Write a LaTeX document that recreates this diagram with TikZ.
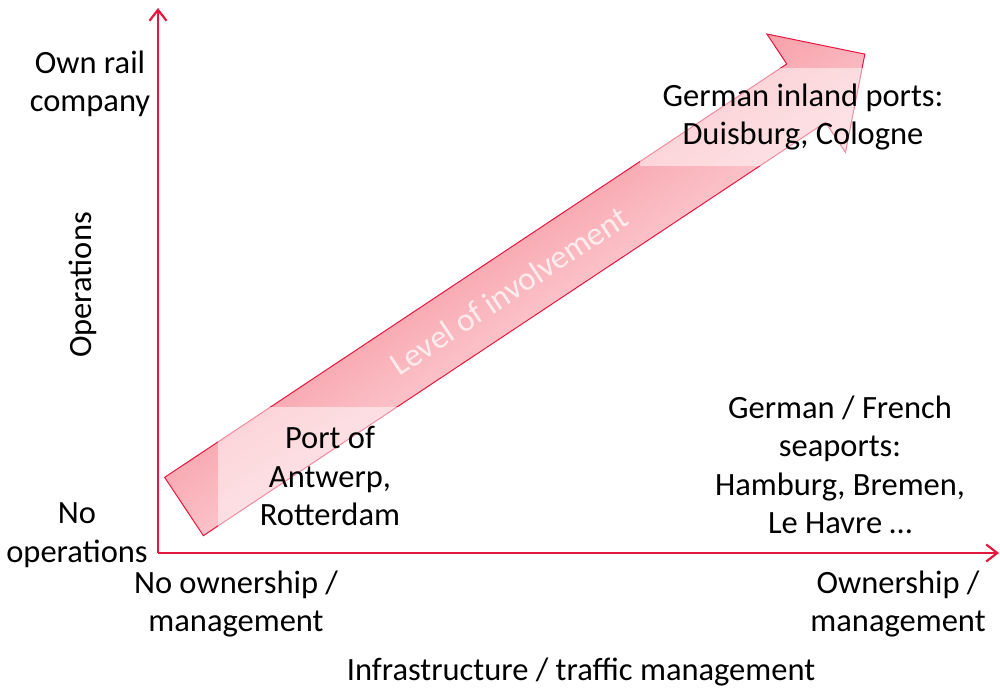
\documentclass[tikz,border=0pt]{standalone}
\usepackage{fontspec}
\setmainfont{Carlito}
\usepackage{tikz}
\usetikzlibrary{calc,arrows.meta}
\definecolor{axisred}{HTML}{E5173F}
\definecolor{arrowdark}{HTML}{F8A0AA}
\definecolor{arrowlight}{HTML}{FCCDD2}
\definecolor{ink}{HTML}{000000}
\tikzset{
  axis/.style={draw=axisred, line width=2.2pt, -{Straight Barb[length=11pt,width=17pt]}},
  band/.style={draw=axisred, line width=1pt, line join=miter, top color=arrowdark, bottom color=arrowlight},
  lab/.style={text=ink, font=\fontsize{32.5}{38.5}\selectfont, align=center},
  box/.style={lab, fill=white, fill opacity=0.5, text opacity=1, inner sep=0pt},
  inv/.style={text=white, text opacity=0.75, font=\fontsize{33}{40}\selectfont},
}

\begin{document}
\begin{tikzpicture}[x=1pt,y=1pt]
  \useasboundingbox (0,0) rectangle (1000,691);
  % axes
  \coordinate (O) at (158,138);
  \coordinate (Ytop) at (158,683);
  \coordinate (Xend) at (999,138);
  \draw[axis] (O) -- (Ytop);
  \draw[axis] (O) -- (Xend);
  % diagonal block arrow
  \coordinate (T) at (184,184.5);
  \begin{scope}[transform canvas={shift={(T)}, rotate=33.6}]
    \shade[band] (0,-35) -- (747,-35) -- (747,-71) -- (817.5,0) -- (747,71) -- (747,35) -- (0,35) -- cycle;
  \end{scope}
  \node[inv, rotate=33.6] (lvl) at ($(T)+(33.6:390)$) {Level of involvement};
  % port groups
  \node[box, minimum width=224pt, minimum height=138pt] (antwerp) at (330,215) {Port of\\Antwerp,\\Rotterdam};
  \node[box, minimum width=326pt, minimum height=98pt] (inland) at (803,574) {German inland ports:\\Duisburg, Cologne};
  \node[lab] (seaports) at (840,226) {German / French\\seaports:\\Hamburg, Bremen,\\Le Havre …};
  % axis labels
  \node[lab] (ownrail) at (90,607) {Own rail\\company};
  \node[lab, rotate=90] (ops) at (83,406) {Operations};
  \node[lab] (noops) at (77,156) {No\\operations};
  \node[lab] (noown) at (236,87) {No ownership /\\management};
  \node[lab] (own) at (898,87) {Ownership /\\management};
  \node[lab] (infra) at (581,19) {Infrastructure / traffic management};
\end{tikzpicture}
\end{document}
